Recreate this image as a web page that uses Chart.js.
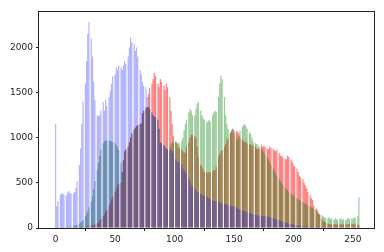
<!DOCTYPE html>
<html>
<head>
<meta charset="utf-8">
<script src="https://cdn.jsdelivr.net/npm/chart.js@4"></script>
<style>
  html, body { margin: 0; padding: 0; background: #fff; }
  #wrap { width: 384px; height: 252px; }
</style>
</head>
<body>
<div id="wrap"><canvas id="histChart" width="384" height="252"></canvas></div>
<script>
// pixel intensity bins 0..255
var bins = [];
for (var i = 0; i < 256; i++) bins.push(i);

var blueCounts = [
  1150, 240, 300, 0, 370, 380, 385, 370, 0, 360, 390, 410, 390, 380, 0, 380,
  400, 440, 520, 0, 700, 880, 1150, 1400, 0, 1600, 1850, 2150, 2280, 0, 2100, 1900,
  1620, 1420, 0, 1250, 1240, 1250, 1300, 0, 1400, 1300, 1420, 1350, 0, 1450, 1520, 1600,
  1680, 0, 1700, 1780, 1750, 1800, 0, 1780, 1750, 1800, 1850, 1820, 0, 1900, 2000, 2110,
  2060, 0, 2040, 1960, 2000, 1900, 0, 1750, 1700, 1620, 1580, 0, 1560, 1450, 1340, 1320,
  0, 1280, 1250, 1230, 1230, 0, 1200, 1100, 950, 940, 0, 920, 900, 880, 870, 0,
  860, 860, 850, 830, 0, 760, 740, 730, 720, 0, 700, 660, 640, 620, 600, 0,
  560, 520, 480, 460, 0, 440, 420, 400, 390, 0, 380, 370, 360, 350, 0, 350,
  340, 330, 320, 0, 310, 300, 300, 290, 0, 290, 280, 280, 270, 0, 270, 260,
  260, 250, 0, 250, 240, 240, 240, 0, 230, 220, 210, 200, 0, 200, 190, 190,
  180, 180, 0, 170, 160, 160, 150, 0, 150, 140, 140, 130, 0, 130, 130, 130,
  130, 0, 130, 120, 120, 110, 0, 110, 100, 100, 90, 0, 90, 80, 70, 70,
  0, 60, 60, 55, 50, 0, 45, 40, 35, 30, 0, 30, 30, 25, 25, 0,
  20, 20, 20, 18, 18, 0, 16, 16, 15, 15, 0, 14, 14, 13, 12, 0,
  12, 12, 11, 10, 0, 10, 10, 9, 9, 0, 8, 8, 8, 7, 0, 7,
  7, 6, 6, 0, 6, 5, 5, 5, 0, 5, 5, 4, 4, 0, 4, 10
];

var greenCounts = [
  10, 10, 10, 0, 10, 10, 10, 10, 0, 15, 15, 15, 15, 15, 0, 20,
  25, 30, 35, 0, 50, 60, 70, 90, 0, 130, 160, 190, 230, 0, 290, 350,
  430, 520, 0, 640, 720, 800, 870, 0, 940, 960, 970, 970, 0, 970, 960, 960,
  950, 0, 940, 920, 900, 860, 0, 720, 620, 750, 850, 870, 0, 900, 950, 1000,
  1050, 0, 1090, 1110, 1130, 1140, 0, 1150, 1160, 1270, 1300, 0, 1330, 1340, 1340, 1320,
  0, 1280, 1250, 1230, 1230, 0, 1200, 1100, 950, 940, 0, 920, 900, 880, 870, 0,
  900, 940, 940, 950, 0, 960, 950, 940, 940, 0, 960, 1000, 1080, 1150, 1200, 0,
  1280, 1320, 1300, 1250, 0, 1250, 1320, 1380, 1400, 0, 1300, 1250, 1220, 1200, 0, 1170,
  1180, 1200, 1180, 0, 1250, 1280, 1300, 1290, 0, 1450, 1600, 1690, 1650, 0, 1450, 1250,
  1150, 1100, 0, 1060, 1080, 1100, 1050, 0, 990, 980, 1020, 1080, 0, 1120, 1140, 1150,
  1130, 1100, 0, 1060, 1040, 1000, 960, 0, 940, 930, 920, 900, 0, 880, 860, 840,
  820, 0, 790, 760, 730, 700, 0, 660, 640, 610, 580, 0, 540, 520, 500, 480,
  0, 450, 430, 420, 400, 0, 380, 370, 360, 350, 0, 330, 320, 310, 300, 0,
  290, 280, 270, 260, 250, 0, 240, 230, 220, 210, 0, 200, 180, 170, 150, 0,
  140, 130, 120, 110, 0, 110, 120, 100, 110, 0, 90, 110, 100, 90, 0, 100,
  110, 90, 100, 0, 90, 100, 110, 100, 0, 110, 100, 120, 110, 0, 130, 340
];

var redCounts = [
  5, 5, 5, 0, 5, 5, 5, 5, 0, 5, 5, 5, 5, 5, 0, 5,
  8, 8, 10, 0, 10, 12, 12, 15, 0, 15, 18, 20, 20, 0, 25, 30,
  35, 40, 0, 50, 60, 80, 100, 0, 130, 150, 180, 200, 0, 240, 280, 320,
  350, 0, 400, 430, 470, 490, 0, 500, 620, 750, 850, 870, 0, 900, 950, 1000,
  1050, 0, 1090, 1110, 1130, 1140, 0, 1150, 1160, 1270, 1300, 0, 1330, 1340, 1480, 1550,
  0, 1600, 1650, 1720, 1680, 0, 1600, 1560, 1650, 1620, 0, 1580, 1530, 1600, 1560, 0,
  1450, 1300, 1150, 1020, 0, 950, 930, 900, 880, 0, 870, 850, 830, 840, 900, 0,
  950, 1000, 1030, 1030, 0, 1020, 1000, 900, 780, 0, 700, 680, 650, 620, 0, 620,
  610, 620, 620, 0, 630, 640, 640, 680, 0, 790, 820, 850, 860, 0, 900, 930,
  970, 1000, 0, 1050, 1080, 1100, 1080, 0, 1070, 1070, 1050, 1000, 0, 980, 960, 950,
  960, 940, 0, 920, 930, 910, 920, 0, 900, 880, 870, 880, 0, 920, 900, 910,
  900, 0, 880, 870, 900, 890, 0, 880, 860, 850, 870, 0, 830, 800, 800, 780,
  0, 770, 760, 800, 790, 0, 760, 730, 700, 680, 0, 660, 620, 580, 560, 0,
  540, 500, 470, 440, 400, 0, 360, 330, 310, 250, 0, 220, 200, 160, 150, 0,
  100, 80, 70, 60, 0, 50, 45, 45, 40, 0, 40, 45, 40, 40, 0, 40,
  45, 40, 40, 0, 40, 40, 45, 40, 0, 40, 45, 40, 40, 0, 40, 30
];

var xTicks = [0, 50, 100, 150, 200, 250];
var yTicks = [0, 500, 1000, 1500, 2000];

// draw the closed box round the plot like matplotlib spines
var boxPlugin = {
    id: 'box',
    afterDraw: function(chart) {
        var a = chart.chartArea;
        var ctx = chart.ctx;
        ctx.save();
        ctx.strokeStyle = '#222';
        ctx.lineWidth = 1;
        ctx.strokeRect(Math.round(a.left) - 0.5, Math.round(a.top) + 0.5,
            Math.round(a.right - a.left) + 1, Math.round(a.bottom - a.top));
        ctx.restore();
    }
};

var tickFont = { family: 'DejaVu Sans', size: 9 };
var plainLabel = function(value) { return String(value); };

const ctx = document.getElementById('histChart').getContext('2d');
const histChart = new Chart(ctx, {
    type: 'bar',
    data: {
        labels: bins,
        datasets: [{
                label: 'b',
                backgroundColor: 'rgba(0, 0, 255, 0.3)',
                data: blueCounts
            },
            {
                label: 'g',
                backgroundColor: 'rgba(0, 128, 0, 0.4)',
                data: greenCounts
            },
            {
                label: 'r',
                backgroundColor: 'rgba(255, 0, 0, 0.5)',
                data: redCounts
            }
        ]
    },
    options: {
        responsive: false,
        animation: false,
        layout: { padding: { top: 11, right: 10, left: 0, bottom: 0 } },
        datasets: {
            bar: {
                grouped: false,
                barPercentage: 1,
                categoryPercentage: 1,
                borderWidth: 0,
                inflateAmount: 0
            }
        },
        plugins: {
            legend: { display: false },
            tooltip: { enabled: false }
        },
        scales: {
            x: {
                type: 'linear',
                min: -14,
                max: 267.7,
                offset: false,
                afterBuildTicks: function(scale) {
                    scale.ticks = xTicks.map(function(v) { return { value: v }; });
                },
                afterFit: function(scale) { scale.height = 24; },
                border: { display: false },
                grid: { display: true, drawOnChartArea: false, drawTicks: true, tickLength: 3, color: '#222' },
                ticks: { font: tickFont, color: '#222', padding: 3, maxRotation: 0, callback: plainLabel }
            },
            y: {
                min: 0,
                max: 2404,
                afterBuildTicks: function(scale) {
                    scale.ticks = yTicks.map(function(v) { return { value: v }; });
                },
                afterFit: function(scale) { scale.width = 39; },
                border: { display: false },
                grid: { display: true, drawOnChartArea: false, drawTicks: true, tickLength: 3, color: '#222' },
                ticks: { font: tickFont, color: '#222', padding: 3, callback: plainLabel }
            }
        }
    },
    plugins: [boxPlugin]
});
</script>
</body>
</html>
